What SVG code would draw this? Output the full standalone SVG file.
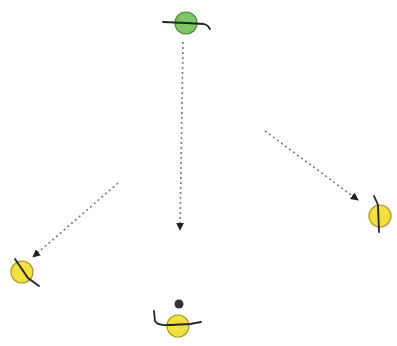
<svg xmlns="http://www.w3.org/2000/svg" width="397" height="346" viewBox="0 0 397 346">
<style>
.conn{fill:none;stroke:#777;stroke-width:1.6;stroke-dasharray:2 3}
.ax{fill:none;stroke:#222;stroke-width:1.8;stroke-linecap:round}
.green{fill:#7cc86a;stroke:#4f8a40;stroke-width:1.2}
.yellow{fill:#f2e040;stroke:#a89a20;stroke-width:1.2}
</style>
<defs>
<marker id="ah" viewBox="0 0 10 10" refX="9" refY="5" markerWidth="5" markerHeight="5" orient="auto">
<path d="M0,0 L10,5 L0,10 z" fill="#222"/>
</marker>
</defs>
<rect width="397" height="346" fill="#fff"/>
<g id="connectors">
<path class="conn" d="M183,42 L180,230" marker-end="url(#ah)"/>
<path class="conn" d="M118,183 L33,257" marker-end="url(#ah)"/>
<path class="conn" d="M265,131 L358,200" marker-end="url(#ah)"/>
</g>
<g id="node-top">
<circle class="green" cx="186" cy="23" r="11"/>
<path class="ax" d="M163,22 L186,23 L204,24 Q208,25 210,29"/>
</g>
<g id="node-left">
<circle class="yellow" cx="22" cy="272" r="11"/>
<path class="ax" d="M15,259 L28,278 L39,286"/>
</g>
<g id="node-right">
<circle class="yellow" cx="380" cy="216" r="11"/>
<path class="ax" d="M374,196 L378,205 L379,232"/>
</g>
<g id="node-bottom">
<circle cx="179" cy="304" r="4.5" fill="#333"/>
<circle class="yellow" cx="178" cy="326" r="11"/>
<path class="ax" d="M154,311 L155,321 Q158,326 170,325 L190,324 L201,322"/>
</g>
</svg>
